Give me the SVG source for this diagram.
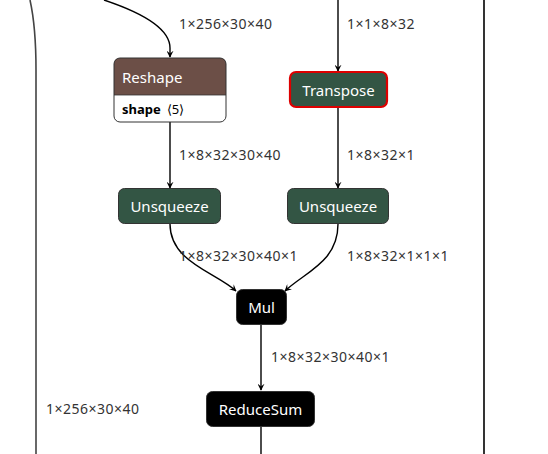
<svg xmlns="http://www.w3.org/2000/svg" width="548" height="454" viewBox="0 0 548 454">
<defs>
<style>
.edge{fill:none;stroke:#000;stroke-width:1.4}
.lbl{font-family:"Noto Sans","Open Sans","DejaVu Sans",sans-serif;font-size:14px;letter-spacing:0.5px;fill:#333}
.nt{font-family:"Noto Sans","Open Sans","DejaVu Sans",sans-serif;font-size:15px;fill:#fff;text-anchor:middle;dominant-baseline:central}
.green{fill:#335544;stroke:#333;stroke-width:1}
.black{fill:#000;stroke:#333;stroke-width:1}
</style>
<marker id="ah" viewBox="0 0 10 10" refX="9" refY="5" markerWidth="7" markerHeight="7" markerUnits="userSpaceOnUse" orient="auto">
<path d="M0,0 L10,5 L0,10 L4,5 z" fill="#000"/>
</marker>
</defs>
<rect width="548" height="454" fill="#fff"/>
<g id="connectors">
<path class="edge" d="M30,0 C34,18 36,35 36,70 L36,454" style="stroke:#444;stroke-width:1.6"/>
<path class="edge" d="M484,0 L484,454" style="stroke-width:1.6"/>
<path class="edge" d="M104,0 C140,12 170,28 170,48 L170,57" marker-end="url(#ah)"/>
<path class="edge" d="M338,0 L338,71" marker-end="url(#ah)"/>
<path class="edge" d="M170,122 L170,188" marker-end="url(#ah)"/>
<path class="edge" d="M338,107 L338,188" marker-end="url(#ah)"/>
<path class="edge" d="M170,224 C170,262 215,272 236,291" marker-end="url(#ah)"/>
<path class="edge" d="M338,224 C338,262 305,272 285,291" marker-end="url(#ah)"/>
<path class="edge" d="M261,325 L261,390" marker-end="url(#ah)"/>
<path class="edge" d="M261,427 L261,454"/>
<text class="lbl" x="179" y="29">1×256×30×40</text>
<text class="lbl" x="347" y="29">1×1×8×32</text>
<text class="lbl" x="179" y="160">1×8×32×30×40</text>
<text class="lbl" x="347" y="160">1×8×32×1</text>
<text class="lbl" x="179" y="261">1×8×32×30×40×1</text>
<text class="lbl" x="347" y="261">1×8×32×1×1×1</text>
<text class="lbl" x="271" y="362">1×8×32×30×40×1</text>
<text class="lbl" x="46" y="414">1×256×30×40</text>
</g>
<g id="reshape">
<path d="M114,95 L114,64 Q114,58 120,58 L220,58 Q226,58 226,64 L226,95 Z" fill="#6c4f47"/>
<path d="M114,95 L226,95 L226,116 Q226,122 220,122 L120,122 Q114,122 114,116 Z" fill="#fff"/>
<rect x="114" y="58" width="112" height="64" rx="6" fill="none" stroke="#333" stroke-width="1"/>
<line x1="114" y1="95" x2="226" y2="95" stroke="#333" stroke-width="0.8"/>
<text class="nt" x="122" y="77" style="text-anchor:start">Reshape</text>
<text x="122" y="114" font-family="'Noto Sans','Open Sans',sans-serif" font-size="13" fill="#000"><tspan font-weight="bold">shape</tspan><tspan dx="6">⟨5⟩</tspan></text>
</g>
<g id="transpose">
<rect x="290" y="72" width="97" height="35" rx="6" fill="#335544" stroke="#d00" stroke-width="2.2"/>
<text class="nt" x="338.5" y="90">Transpose</text>
</g>
<g id="unsqueeze1">
<rect class="green" x="118.5" y="188.5" width="102" height="35" rx="6"/>
<text class="nt" x="169.5" y="206">Unsqueeze</text>
</g>
<g id="unsqueeze2">
<rect class="green" x="287.5" y="188.5" width="101" height="35" rx="6"/>
<text class="nt" x="338" y="206">Unsqueeze</text>
</g>
<g id="mul">
<rect class="black" x="236.5" y="289.5" width="50" height="35" rx="6"/>
<text class="nt" x="261.5" y="307">Mul</text>
</g>
<g id="reducesum">
<rect class="black" x="206.5" y="391.5" width="108" height="35" rx="6"/>
<text class="nt" x="260.5" y="409">ReduceSum</text>
</g>
</svg>
